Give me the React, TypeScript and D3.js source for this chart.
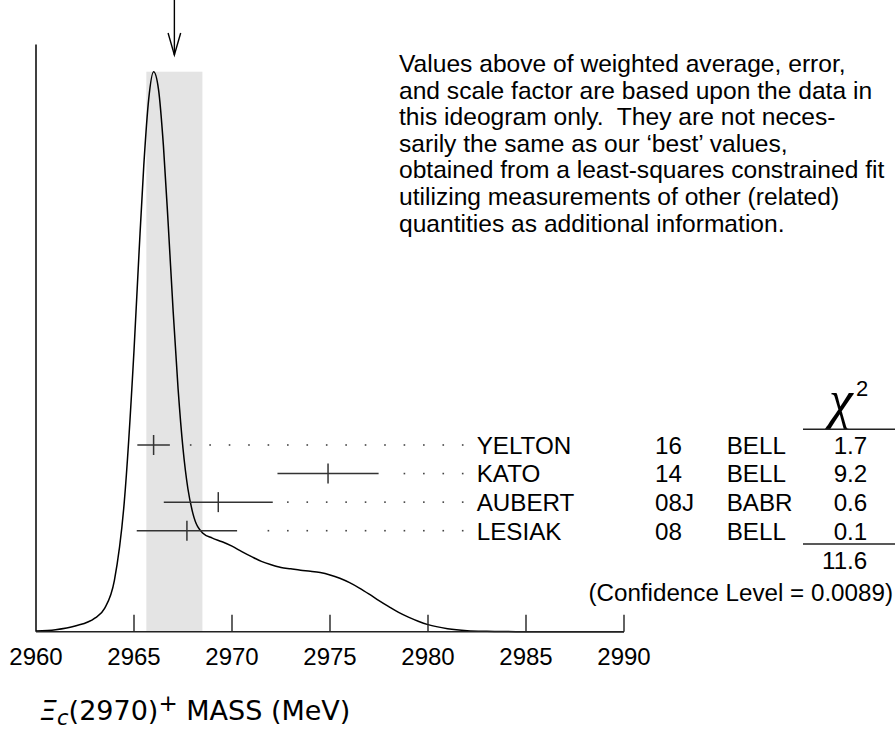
import React from "react";
import * as d3 from "d3";

// ---- data ----
const xTicks = [2960, 2965, 2970, 2975, 2980, 2985, 2990];
const names = ["YELTON", "KATO", "AUBERT", "LESIAK"];
const years = ["16", "14", "08J", "08"];
const experiments = ["BELL", "BELL", "BABR", "BELL"];
const values = [2966.0, 2974.9, 2969.3, 2967.7];
const errors = [0.83, 2.58, 2.78, 2.56];
const chi2 = ["1.7", "9.2", "0.6", "0.1"];
const chi2Total = "11.6";
const confidence = "0.0089";
const average = 2967.06;
const averageError = 1.43;

// ideogram curve (relative density)
const curveX = [2960, 2961, 2962, 2963, 2963.5, 2964, 2964.5, 2965, 2965.25, 2965.5, 2965.75, 2966, 2966.25, 2966.5, 2966.75, 2967, 2967.25, 2967.5, 2967.75, 2968, 2968.5, 2969, 2969.5, 2970, 2970.5, 2971, 2971.5, 2972, 2972.5, 2973, 2973.5, 2974, 2974.5, 2975, 2975.5, 2976, 2976.5, 2977, 2977.5, 2978, 2978.5, 2979, 2979.5, 2980, 2981, 2982, 2983, 2984, 2985, 2986, 2988, 2990];
const curveY = [0.002, 0.006, 0.017, 0.040, 0.069, 0.152, 0.381, 0.832, 1.114, 1.380, 1.576, 1.657, 1.605, 1.439, 1.201, 0.946, 0.718, 0.542, 0.423, 0.351, 0.292, 0.277, 0.266, 0.253, 0.237, 0.222, 0.208, 0.198, 0.190, 0.186, 0.182, 0.179, 0.175, 0.168, 0.158, 0.145, 0.129, 0.111, 0.092, 0.074, 0.057, 0.043, 0.031, 0.021, 0.009, 0.003, 0.001, 0.0003, 0.0001, 0, 0, 0];

const noteLines = [
  "Values above of weighted average, error,",
  "and scale factor are based upon the data in",
  "this ideogram only.  They are not neces-",
  "sarily the same as our \u2018best\u2019 values,",
  "obtained from a least-squares constrained fit",
  "utilizing measurements of other (related)",
  "quantities as additional information.",
];

const SANS = "'Liberation Sans', Arial, Helvetica, sans-serif";

export default function App() {
  const W = 895, H = 730;
  const x = d3.scaleLinear().domain([2960, 2990]).range([36, 624]);
  const baseY = 631.7;
  const y = d3.scaleLinear().domain([0, d3.max(curveY) as number]).range([baseY, 71.7]);
  const rowY = d3.scaleLinear().domain([0, 3]).range([445, 530.7]);

  const line = d3
    .line<number>()
    .x((_, i) => x(curveX[i]))
    .y((d) => y(d))
    .curve(d3.curveMonotoneX);

  const labelX = 476.7;
  const dotStep = 19.43;
  const dotStart = labelX - 14;

  const ax = x(average);

  return (
    <svg width={W} height={H} style={{ position: "absolute", left: 0, top: 0, background: "#fff" }} fontFamily={SANS}>
      {/* grey band */}
      <rect x={x(average - averageError)} y={71.7} width={x(average + averageError) - x(average - averageError)} height={baseY - 71.7} fill="#e4e4e4" />
      {/* arrow */}
      <line x1={ax} x2={ax} y1={0} y2={55} stroke="#000" strokeWidth={1.4} />
      <polyline points={`${ax - 6.3},33 ${ax},55 ${ax + 6.3},33`} fill="none" stroke="#000" strokeWidth={1.4} />
      {/* curve */}
      <path d={line(curveY) || ""} fill="none" stroke="#000" strokeWidth={1.5} />
      {/* axes */}
      <line x1={x(2960)} x2={x(2960)} y1={44.5} y2={baseY} stroke="#000" strokeWidth={1.5} />
      <line x1={x(2960)} x2={x(2990)} y1={baseY} y2={baseY} stroke="#222" strokeWidth={1.6} />
      {xTicks.map((t) => (
        <g key={t}>
          {t !== 2960 && <line x1={x(t)} x2={x(t)} y1={baseY} y2={baseY - 17} stroke="#222" strokeWidth={1.4} />}
          <text x={x(t)} y={665} textAnchor="middle" fontSize={24} fill="#000">
            {t}
          </text>
        </g>
      ))}
      {/* measurements */}
      {values.map((v, i) => {
        const yy = rowY(i);
        const lo = x(v - errors[i]);
        const hi = x(v + errors[i]);
        const dots: number[] = [];
        for (let dx = dotStart; dx > hi + 13; dx -= dotStep) dots.push(dx);
        return (
          <g key={names[i]}>
            <line x1={lo} x2={hi} y1={yy} y2={yy} stroke="#333" strokeWidth={1.5} />
            <line x1={x(v)} x2={x(v)} y1={yy - 10} y2={yy + 10} stroke="#333" strokeWidth={1.5} />
            {dots.map((d) => (
              <rect key={d} x={d - 0.8} y={yy - 0.8} width={1.6} height={1.6} fill="#444" />
            ))}
            <text x={labelX} y={yy + 8.8} fontSize={24.2}>{names[i]}</text>
            <text x={655} y={yy + 8.8} fontSize={24.2}>{years[i]}</text>
            <text x={726.7} y={yy + 8.8} fontSize={24.2}>{experiments[i]}</text>
            <text x={867.3} y={yy + 8.8} fontSize={24.2} textAnchor="end">{chi2[i]}</text>
          </g>
        );
      })}
      {/* chi2 header */}
      <text x={829} y={418} fontSize={54} fontStyle="italic" fontFamily="'Liberation Serif', 'Times New Roman', serif">χ</text>
      <text x={856} y={396} fontSize={22}>2</text>
      <line x1={803} x2={895} y1={429.3} y2={429.3} stroke="#222" strokeWidth={1.4} />
      <line x1={803} x2={895} y1={544} y2={544} stroke="#222" strokeWidth={1.4} />
      <text x={867.3} y={569} fontSize={24.2} textAnchor="end">{chi2Total}</text>
      <text x={893} y={601} fontSize={24.2} textAnchor="end">{`(Confidence Level = ${confidence})`}</text>
      {/* note */}
      {noteLines.map((l, i) => (
        <text key={i} x={399} y={72 + i * 26.6} fontSize={24.6} style={{ whiteSpace: "pre" }}>
          {l}
        </text>
      ))}
      {/* x title */}
      <text x={40} y={720} fontFamily="'DejaVu Sans', sans-serif" fontSize={27} style={{ whiteSpace: "pre" }}>
        <tspan fontStyle="italic">Ξ</tspan>
        <tspan fontStyle="italic" fontSize={21} dy={5}>c</tspan>
        <tspan dy={-5}>(2970)</tspan>
        <tspan fontSize={23} dy={-9}>+</tspan>
        <tspan dy={9}>{" MASS (MeV)"}</tspan>
      </text>
    </svg>
  );
}
